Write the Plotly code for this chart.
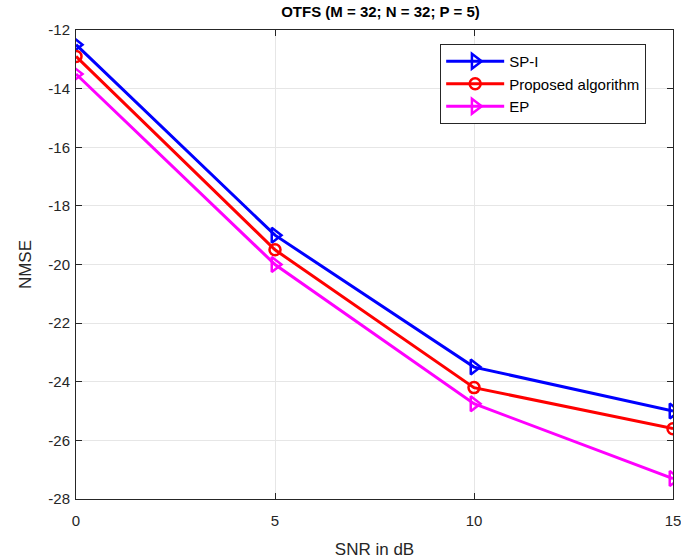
import plotly.graph_objects as go

snr = [0, 5, 10, 15]
sp_i = [-12.5, -19.0, -23.5, -25.0]
proposed = [-12.9, -19.5, -24.2, -25.6]
ep = [-13.5, -20.0, -24.75, -27.3]
x_ticks = [0, 5, 10, 15]
y_ticks = list(range(-28, -11, 2))
y_ticktext = [str(v) for v in y_ticks]

fig = go.Figure()
fig.add_trace(go.Scatter(x=snr, y=sp_i, name="SP-I", mode="lines+markers",
                         line=dict(color="#0000ff", width=3),
                         marker=dict(symbol="triangle-right-open", size=13, color="#0000ff", line=dict(width=2.5, color="#0000ff"))))
fig.add_trace(go.Scatter(x=snr, y=proposed, name="Proposed algorithm", mode="lines+markers",
                         line=dict(color="#ff0000", width=3),
                         marker=dict(symbol="circle-open", size=11, color="#ff0000", line=dict(width=2.5, color="#ff0000"))))
fig.add_trace(go.Scatter(x=snr, y=ep, name="EP", mode="lines+markers",
                         line=dict(color="#ff00ff", width=3),
                         marker=dict(symbol="triangle-right-open", size=13, color="#ff00ff", line=dict(width=2.5, color="#ff00ff"))))

axis_common = dict(showline=True, linecolor="#262626", linewidth=1, mirror="ticks",
                   ticks="inside", ticklen=6, tickcolor="#262626",
                   showgrid=True, gridcolor="#e6e6e6", gridwidth=1, zeroline=False,
                   automargin=False, ticklabeloverflow="allow",
                   tickfont=dict(family="Liberation Sans, Arial", size=15, color="#262626"))

fig.update_layout(
    width=681, height=560,
    paper_bgcolor="white", plot_bgcolor="white",
    margin=dict(l=76, r=8, t=30, b=61),
    title=dict(text="<b>OTFS (M = 32; N = 32; P = 5)</b>", x=0.51, xanchor="center", xref="paper",
               y=1 - 12 / 560, yref="container", yanchor="middle",
               font=dict(family="Liberation Sans, Arial", size=15, color="black")),
    font=dict(family="Liberation Sans, Arial", color="#262626"),
    xaxis=dict(range=[0, 15], tickvals=x_ticks, ticklabelstandoff=8,
               title=dict(text="SNR in dB", font=dict(size=17, color="#262626"), standoff=15),
               **axis_common),
    yaxis=dict(range=[-28, -12], tickvals=y_ticks, ticktext=y_ticktext, ticklabelstandoff=2,
               title=dict(text="NMSE", font=dict(size=17, color="#262626"), standoff=12),
               **axis_common),
    legend=dict(x=0.61, y=0.97, xanchor="left", yanchor="top",
                bordercolor="#262626", borderwidth=1, bgcolor="white",
                font=dict(family="Liberation Sans, Arial", size=15, color="black"),
                itemwidth=58, tracegroupgap=0),
)
fig.write_html("out.html", config={"displayModeBar": False},
               post_script="document.body.style.margin='0px';document.body.style.padding='0px';")
